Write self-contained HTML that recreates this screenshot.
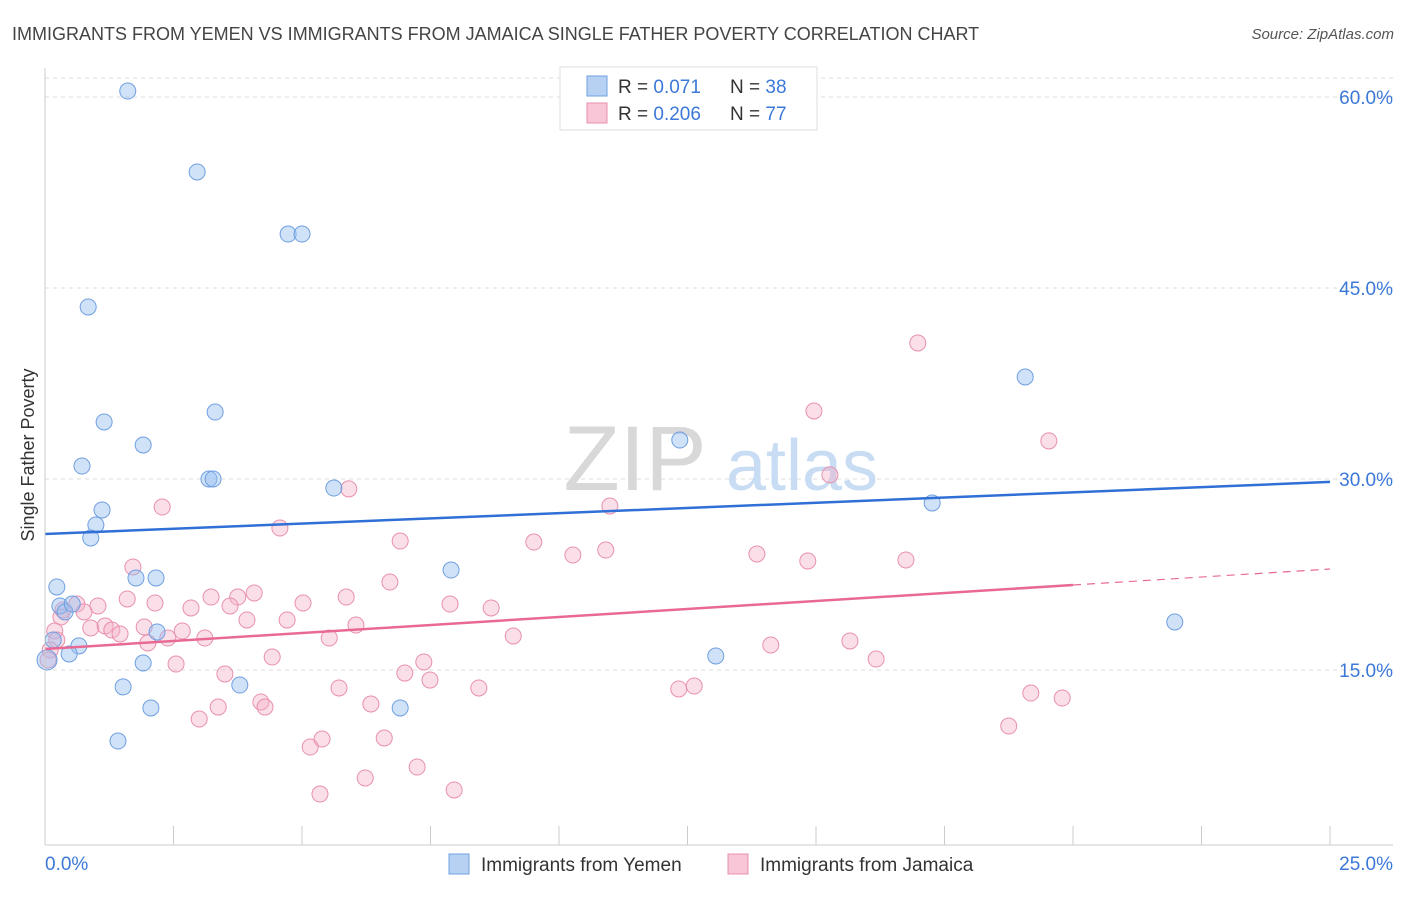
<!DOCTYPE html>
<html><head><meta charset="utf-8">
<style>
body{margin:0;background:#fff;font-family:"Liberation Sans",sans-serif;}
svg text{font-family:"Liberation Sans",sans-serif;}
</style></head>
<body>
<svg id="chart" width="1406" height="892" xmlns="http://www.w3.org/2000/svg">
<text x="12" y="40" font-size="18" fill="#444">IMMIGRANTS FROM YEMEN VS IMMIGRANTS FROM JAMAICA SINGLE FATHER POVERTY CORRELATION CHART</text>
<text x="1394" y="39" font-size="15" fill="#555" text-anchor="end" font-style="italic">Source: ZipAtlas.com</text>
<g id="grid"></g>
<g>
<text x="635" y="490" font-size="92" fill="#d8d8d8" text-anchor="middle" font-family="Liberation Serif">ZIP</text>
<text x="802" y="490" font-size="72" fill="#c8dcf4" text-anchor="middle">atlas</text>
</g>
<text x="34" y="455" font-size="18" fill="#333" text-anchor="middle" transform="rotate(-90 34 455)">Single Father Poverty</text>
<g id="pts"></g>
<g id="lines"></g>
<g>
<rect x="560" y="67" width="257" height="63" fill="#fff" stroke="#ddd"/>
<rect x="587" y="76" width="20" height="20" fill="#b7d1f3" stroke="#6f9fe0"/>
<rect x="587" y="103" width="20" height="20" fill="#f8c6d6" stroke="#e890ad"/>
<text x="618" y="93" font-size="19" fill="#333">R = <tspan fill="#3c78d8">0.071</tspan></text>
<text x="730" y="93" font-size="19" fill="#333">N = <tspan fill="#3c78d8">38</tspan></text>
<text x="618" y="120" font-size="19" fill="#333">R = <tspan fill="#3c78d8">0.206</tspan></text>
<text x="730" y="120" font-size="19" fill="#333">N = <tspan fill="#3c78d8">77</tspan></text>
</g>
<g>
<rect x="449" y="854" width="20" height="20" fill="#b7d1f3" stroke="#6f9fe0"/>
<text x="481" y="871" font-size="19" fill="#333">Immigrants from Yemen</text>
<rect x="728" y="854" width="20" height="20" fill="#f8c6d6" stroke="#e890ad"/>
<text x="760" y="871" font-size="19" fill="#333">Immigrants from Jamaica</text>
</g>
</svg>
<script>
const yTicks=[15,30,45,60];
const yTickLabels=["15.0%","30.0%","45.0%","60.0%"];
const xTickLabels=["0.0%","25.0%"];
const yemenX=[1.61,2.96,4.73,5.00,0.84,1.15,1.91,3.31,0.72,3.19,3.27,1.11,0.99,0.89,0.23,1.77,2.16,0.29,0.39,0.53,2.18,0.66,0.47,0.16,1.91,1.52,3.79,2.06,1.42,5.62,7.90,6.91,12.35,13.05,17.26,19.07,21.98,0.04];
const yemenY=[60.47,54.11,49.24,49.24,43.51,34.48,32.67,35.26,31.02,30.00,30.00,27.57,26.39,25.37,21.52,22.23,22.23,20.03,19.56,20.18,17.98,16.89,16.26,17.36,15.55,13.67,13.82,12.02,9.42,29.29,22.85,12.02,33.06,16.10,28.12,38.01,18.77,15.79];
const jamX=[16.98,14.96,19.53,15.27,5.91,2.28,10.99,4.57,6.91,9.51,10.27,10.91,13.85,14.84,16.75,1.71,6.71,4.07,3.75,3.23,1.60,2.14,2.84,3.60,5.02,5.86,7.88,8.68,0.62,1.03,0.76,0.31,0.35,0.89,1.17,1.30,1.46,1.93,2.67,3.11,2.00,2.39,3.93,4.71,6.05,5.53,9.11,14.12,15.66,0.19,0.23,0.10,0.06,2.55,4.42,3.50,7.37,7.00,7.49,5.72,8.44,12.33,12.63,16.17,19.18,19.79,3.00,3.37,4.20,4.28,6.34,5.16,5.39,6.60,18.75,6.23,7.24,5.35,7.96];
const jamY=[40.68,35.34,32.99,30.32,29.22,27.80,27.88,26.15,25.13,25.05,24.03,24.42,24.11,23.56,23.64,23.09,21.91,21.05,20.73,20.73,20.58,20.26,19.87,20.03,20.26,20.73,20.18,19.87,20.18,20.03,19.56,19.16,19.71,18.30,18.46,18.14,17.83,18.38,18.06,17.51,17.12,17.51,18.93,18.93,18.53,17.51,17.67,16.96,17.28,18.06,17.36,16.57,15.79,15.47,16.02,14.69,15.63,14.76,14.21,13.59,13.59,13.51,13.74,15.86,13.19,12.80,11.15,12.09,12.49,12.09,12.33,8.95,9.58,9.66,10.60,6.52,7.38,5.26,5.58];
const yemenTrend=[25.68,29.77];
const jamTrend=[16.65,22.93];
const jamSolidEnd=20;

const NS="http://www.w3.org/2000/svg";
const x0=45,x1=1330,xMax=25;
const yZero=861,pxPerPct=191/15;
function sx(v){return x0+v/xMax*(x1-x0);}
function sy(v){return yZero-v*pxPerPct;}
function mk(tag,attrs,parent){const e=document.createElementNS(NS,tag);for(const k in attrs)e.setAttribute(k,attrs[k]);parent.appendChild(e);return e;}
const svg=document.getElementById('chart');
const grid=document.getElementById('grid');
let topLine=mk('line',{x1:45,x2:1393,y1:78,y2:78,stroke:'#ddd','stroke-dasharray':'4,4'},grid);


yTicks.forEach((t,i)=>{
  const l=mk('line',{x1:45,x2:1393,y1:sy(t),y2:sy(t),stroke:'#ddd','stroke-dasharray':'4,4'},grid);
  
  
  const tx=mk('text',{x:1393,y:sy(t)+7,'font-size':19,fill:'#3c78d8','text-anchor':'end'},svg);
  tx.textContent=yTickLabels[i];
  
  
});
const yAx=mk('line',{x1:45,x2:45,y1:68,y2:845,stroke:'#ccc'},svg);


const xAx=mk('line',{x1:45,x2:1393,y1:845,y2:845,stroke:'#ccc'},svg);


for(let i=0;i<=10;i++){
  const v=i*2.5;
  const t=mk('line',{x1:sx(v),x2:sx(v),y1:826,y2:845,stroke:'#ccc'},svg);
  
  
}
const xl0=mk('text',{x:45,y:870,'font-size':19,fill:'#3c78d8'},svg);
xl0.textContent=xTickLabels[0];


const xl1=mk('text',{x:1393,y:870,'font-size':19,fill:'#3c78d8','text-anchor':'end'},svg);
xl1.textContent=xTickLabels[1];



const pts=document.getElementById('pts');


jamX.forEach((x,i)=>{
  const c=mk('circle',{cx:sx(x),cy:sy(jamY[i]),r:8,fill:'rgba(245,175,198,0.4)',stroke:'#e890ad','stroke-width':1},pts);
  
  
});
yemenX.forEach((x,i)=>{
  const c=mk('circle',{cx:sx(x),cy:sy(yemenY[i]),r:(i===yemenX.length-1?10:8),fill:'rgba(150,190,240,0.45)',stroke:'#6f9fe0','stroke-width':1},pts);
  
  
});
const lines=document.getElementById('lines');
const bl=mk('line',{x1:sx(0),y1:sy(yemenTrend[0]),x2:sx(25),y2:sy(yemenTrend[1]),stroke:'#2f6fd6','stroke-width':2.5},lines);


const jm=jamTrend[0]+(jamTrend[1]-jamTrend[0])*jamSolidEnd/25;
const pl=mk('line',{x1:sx(0),y1:sy(jamTrend[0]),x2:sx(jamSolidEnd),y2:sy(jm),stroke:'#e86a94','stroke-width':2.5},lines);


const pd=mk('line',{x1:sx(jamSolidEnd),y1:sy(jm),x2:sx(25),y2:sy(jamTrend[1]),stroke:'#e86a94','stroke-width':1.2,'stroke-dasharray':'8,6'},lines);


</script>
</body></html>
